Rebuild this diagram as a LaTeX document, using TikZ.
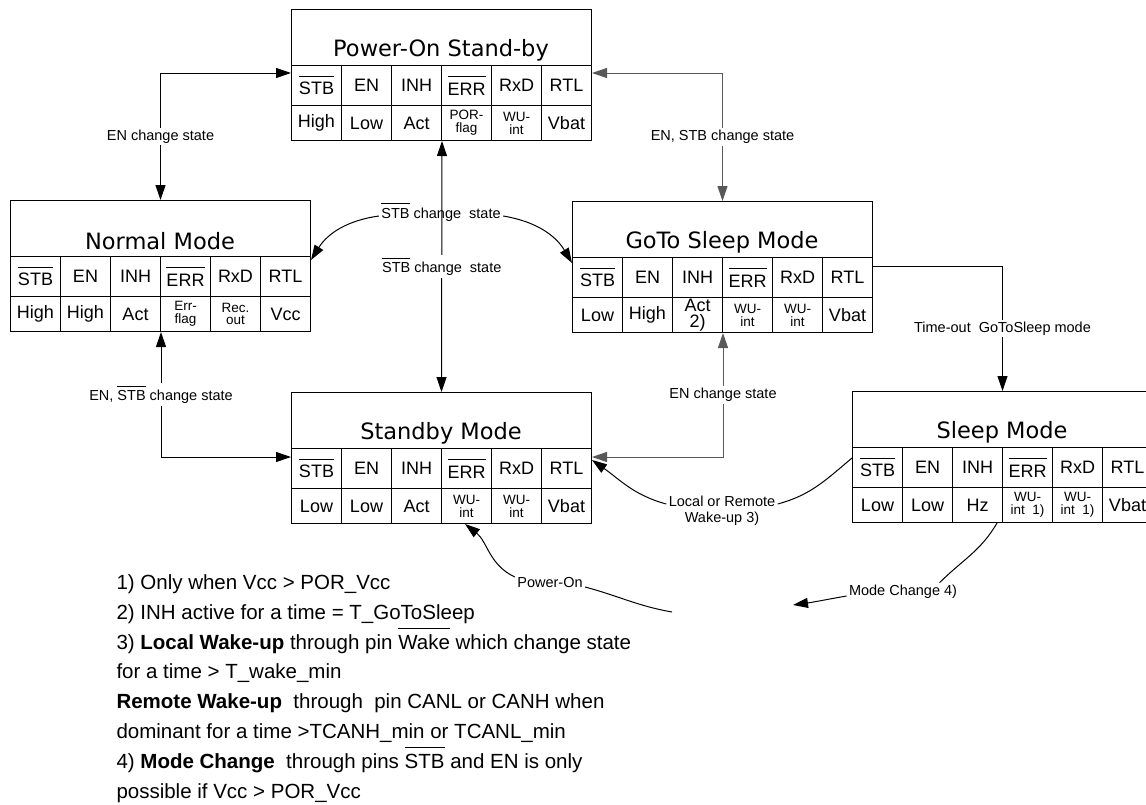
\documentclass[tikz,border=0pt]{standalone}
\usepackage{fontspec}
\setmainfont{Liberation Sans}
\newfontfamily\titlefont{DejaVu Sans}
\usepackage{xcolor}
\usetikzlibrary{arrows.meta,calc,positioning}

\definecolor{linegray}{gray}{0.35}
\newcommand{\ovl}[1]{$\overline{\mbox{\rule{0pt}{0.95em}#1}}$}
\newcommand{\two}[2]{{\fontsize{13.5}{13}\selectfont\shortstack{#1\\#2}}}

% one mode: title row, pin row, value row
\newcommand{\modebox}[5]{%
  \node[titlebox] (#1) at (#2,#3) {};
  \node[titletext] (#1-t) at (#2+150,#3+41) {#4};
  \foreach \t [count=\i] in {\ovl{STB},EN,INH,\ovl{ERR},RxD,RTL}
    \node[headcell] (#1-h\i) at ({#2+(\i-1)*50},#3+56) {\t};
  \foreach \t [count=\i] in {#5}
    \node[valcell] (#1-v\i) at ({#2+(\i-1)*50},#3+96) {\t};
}

\begin{document}
\begin{tikzpicture}[x=1pt,y=-1pt,line width=1pt,>={Triangle[length=15pt,width=10pt]}]
  \tikzstyle{titlebox}=[draw,anchor=north west,minimum width=300pt,minimum height=56pt,inner sep=0pt]
  \tikzstyle{titletext}=[font=\titlefont\fontsize{22.5}{24}\selectfont]
  \tikzstyle{headcell}=[draw,anchor=north west,minimum width=50pt,minimum height=40pt,inner sep=0pt,font=\fontsize{18}{19}\selectfont]
  \tikzstyle{valcell}=[headcell,minimum height=35pt]
  \tikzstyle{lbl}=[font=\fontsize{14.5}{16}\selectfont,fill=white,inner sep=2pt]
  \useasboundingbox (0,0) rectangle (1146,804);
  \fill[white] (0,0) rectangle (1146,804);

  \modebox{por}{291}{9}{Power-On Stand-by}{High,Low,Act,\two{POR-}{flag},\two{WU-}{int},Vbat}
  \modebox{norm}{10}{200}{Normal Mode}{High,High,Act,\two{Err-}{flag},\two{Rec.}{out},Vcc}
  \modebox{goto}{572}{201}{GoTo Sleep Mode}{Low,High,\shortstack{Act\\2)},\two{WU-}{int},\two{WU-}{int},Vbat}
  \modebox{stby}{291}{392}{Standby Mode}{Low,Low,Act,\two{WU-}{int},\two{WU-}{int},Vbat}
  \modebox{sleep}{852}{391}{Sleep Mode}{Low,Low,Hz,\two{WU-}{int~~1)},\two{WU-}{int~~1)},Vbat}

  % pin driven transitions
  \draw[<->] ([yshift=-8pt]por-h1.north west) -| (norm.north)
    node[lbl,pos=0.75] {EN change state};
  \draw[<->,linegray] ([yshift=-8pt]por-h6.north east) -| (goto.north)
    node[lbl,pos=0.75,text=black] {EN, STB change state};
  \draw[<->] (norm-v3.south east) |- ([yshift=-9pt]stby-h1.north west)
    node[lbl,pos=0.25] {EN, \ovl{STB} change state};
  \draw[<->,linegray] (goto-v3.south east) |- ([yshift=-9pt]stby-h6.north east)
    node[lbl,pos=0.25,text=black] {EN change state};
  \draw[<->] (por-v3.south east) -- (stby.north)
    node[lbl,pos=0.5] {\ovl{STB} change\ \ state};

  \node[lbl,fill=none] (stbc) at (441,212) {\ovl{STB} change\ \ state};
  \draw[->] ([yshift=-4pt]stbc.west) to[bend right=25] ([yshift=-4pt]norm-h6.north east);
  \draw[->] ([yshift=-4pt]stbc.east) to[bend left=25] ([yshift=-6pt]goto-h1.north west);

  \draw[->] ([yshift=-9pt]goto-h6.north east) -| (sleep.north)
    node[lbl,pos=0.75] {Time-out\ \ GoToSleep mode};

  % wake-up
  \node[lbl,fill=none,align=center] (wake) at (722,511) {Local or Remote\\Wake-up 3)};
  \draw ([yshift=-11pt]sleep-h1.north west) to[out=220,in=15] ([yshift=7pt]wake.east);
  \draw[->] ([yshift=7pt]wake.west) to[out=165,in=-35] ([yshift=-12pt]stby-h6.north east);

  % power-on
  \coordinate (pwrend) at (672,612);
  \node[lbl,fill=none] (pwr) at (550,582) {Power-On};
  \draw (pwrend) to[out=170,in=-15] ([yshift=-5pt]pwr.east);
  \draw[->] ([yshift=5pt]pwr.west) to[out=155,in=-38] ([xshift=24pt]stby-v4.south west);

  % mode change
  \coordinate (mtip) at (793,605);
  \node[lbl,fill=none] (mchg) at (903,592) {Mode Change 4)};
  \draw ([xshift=-5pt]sleep-v4.south west) to[out=240,in=45] ([xshift=-20pt]mchg.north east);
  \draw[->] ([yshift=-4pt]mchg.west) to[out=190,in=8] (mtip);

  % footnotes
  \node[anchor=base west,align=left,inner sep=0pt,font=\fontsize{20.5}{29.8}\selectfont] (notes) at (116,798)
    {1) Only when Vcc > POR\_Vcc\\
     2) INH active for a time = T\_GoToSleep\\
     3) \textbf{Local Wake-up} through pin \ovl{Wake} which change state\\
     for a time > T\_wake\_min\\
     \textbf{Remote Wake-up}\ \ through\ \ pin CANL or CANH when\\
     dominant for a time >TCANH\_min or TCANL\_min\\
     4) \textbf{Mode Change}\ \ through pins \ovl{STB} and EN is only\\
     possible if Vcc > POR\_Vcc};
\end{tikzpicture}
\end{document}
